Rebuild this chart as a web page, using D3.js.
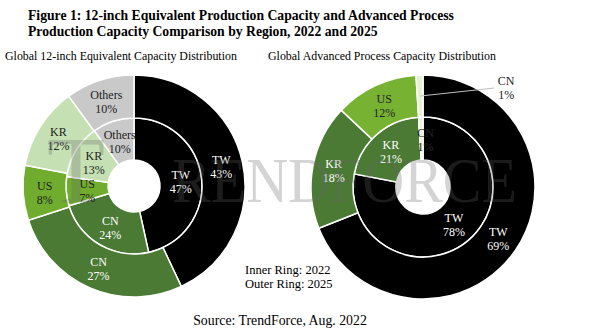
<!DOCTYPE html>
<html>
<head>
<meta charset="utf-8">
<script src="https://cdn.jsdelivr.net/npm/d3@7"></script>
<style>
  body { margin: 0; background: #fff; }
  svg { display: block; }
  text { font-family: "Liberation Serif", "DejaVu Serif", serif; }
</style>
</head>
<body>
<script>
// data
var leftCats = ["TW", "CN", "US", "KR", "Others"];
var left2022 = [47, 24, 7, 13, 10];
var left2025 = [43, 27, 8, 12, 10];
var leftColors = ["#000000", "#4a7a34", "#70ad2f", "#c5e0b3", "#c9c9c9"];
var leftText = ["#fff", "#fff", "#222", "#222", "#222"];

var rightCats = ["TW", "KR", "US", "CN"];
var right2022 = [78, 21, 0, 1];
var right2025 = [69, 18, 12, 1];
var rightColors = ["#000000", "#4a7a34", "#78b232", "#e6f0d5"];
var rightText = ["#fff", "#fff", "#222", "#222"];

var width = 594, height = 335;
var svg = d3.select("body").append("svg")
  .attr("width", width).attr("height", height);

// titles
svg.append("text").attr("x", 28).attr("y", 19.5)
  .attr("font-weight", "bold").attr("font-size", 13.7)
  .text("Figure 1: 12-inch Equivalent Production Capacity and Advanced Process");
svg.append("text").attr("x", 28).attr("y", 36)
  .attr("font-weight", "bold").attr("font-size", 13.7)
  .text("Production Capacity Comparison by Region, 2022 and 2025");
svg.append("text").attr("x", 5).attr("y", 59.5).attr("font-size", 11.9)
  .text("Global 12-inch Equivalent Capacity Distribution");
svg.append("text").attr("x", 268).attr("y", 59.5).attr("font-size", 11.9)
  .text("Global Advanced Process Capacity Distribution");

var pie = d3.pie().sort(null).value(function(d){ return d.v; });

function donut(cx, cy, r0, r1, r2, cats, inner, outer, colors) {
  var g = svg.append("g").attr("transform", "translate(" + cx + "," + cy + ")");
  var rings = [
    {vals: inner, a: d3.arc().innerRadius(r0).outerRadius(r1)},
    {vals: outer, a: d3.arc().innerRadius(r1).outerRadius(r2)}
  ];
  rings.forEach(function(ring){
    var data = pie(cats.map(function(c, i){ return {c: c, v: ring.vals[i], i: i}; }));
    g.selectAll(null).data(data).enter().append("path")
      .attr("d", ring.a)
      .attr("fill", function(d){ return colors[d.data.i]; })
      .attr("stroke", "#fff").attr("stroke-width", 1.5);
    ring.data = data;
  });
  return {g: g, rings: rings};
}

function labels(ch, tcol, skip) {
  ch.rings.forEach(function(ring, k){
    ring.data.forEach(function(d){
      if (d.data.v <= 0) return;
      if (skip && skip(d, k)) return;
      var c = ring.a.centroid(d);
      // the thin 1% slice label sits a little to the right
      if (d.data.v < 2) c[0] += 4;
      var t = ch.g.append("text").attr("text-anchor", "middle")
        .attr("font-size", 12).attr("fill", tcol[d.data.i]);
      t.append("tspan").attr("x", c[0]).attr("y", c[1] - 2).text(d.data.c);
      t.append("tspan").attr("x", c[0]).attr("y", c[1] + 12).text(d.data.v + "%");
    });
  });
}

var L = donut(134, 186, 26, 68, 111, leftCats, left2022, left2025, leftColors);
var R = donut(423, 187, 27, 70, 112, rightCats, right2022, right2025, rightColors);

// watermark
var wm = svg.append("g").attr("fill", "#676767").attr("opacity", 0.28);
wm.append("text").attr("x", 47).attr("y", 203).attr("font-size", 95).text("T");
wm.append("text").attr("x", 172).attr("y", 202).attr("font-size", 63)
  .attr("textLength", 345).attr("lengthAdjust", "spacingAndGlyphs").text("RENDFORCE");

labels(L, leftText);
labels(R, rightText, function(d, k){ return k == 1 && d.data.c == "CN"; });

// outside label for CN 2025 (right)
var cnD = R.rings[1].data[3];
var p0 = R.rings[1].a.centroid(cnD);
R.g.append("line").attr("x1", p0[0]).attr("y1", p0[1])
  .attr("x2", p0[0] + 74).attr("y2", p0[1] - 8)
  .attr("stroke", "#bfbfbf").attr("stroke-width", 1);
var ct = R.g.append("text").attr("text-anchor", "middle").attr("font-size", 12).attr("fill", "#222");
ct.append("tspan").attr("x", p0[0] + 86).attr("y", p0[1] - 11).text(cnD.data.c);
ct.append("tspan").attr("x", p0[0] + 86).attr("y", p0[1] + 3).text(cnD.data.v + "%");

svg.append("text").attr("x", 245).attr("y", 274).attr("font-size", 12.5).text("Inner Ring: 2022");
svg.append("text").attr("x", 245).attr("y", 288).attr("font-size", 12.5).text("Outer Ring: 2025");
svg.append("text").attr("x", 280).attr("y", 325).attr("text-anchor", "middle")
  .attr("font-size", 13.8).text("Source: TrendForce, Aug. 2022");
</script>
</body>
</html>
